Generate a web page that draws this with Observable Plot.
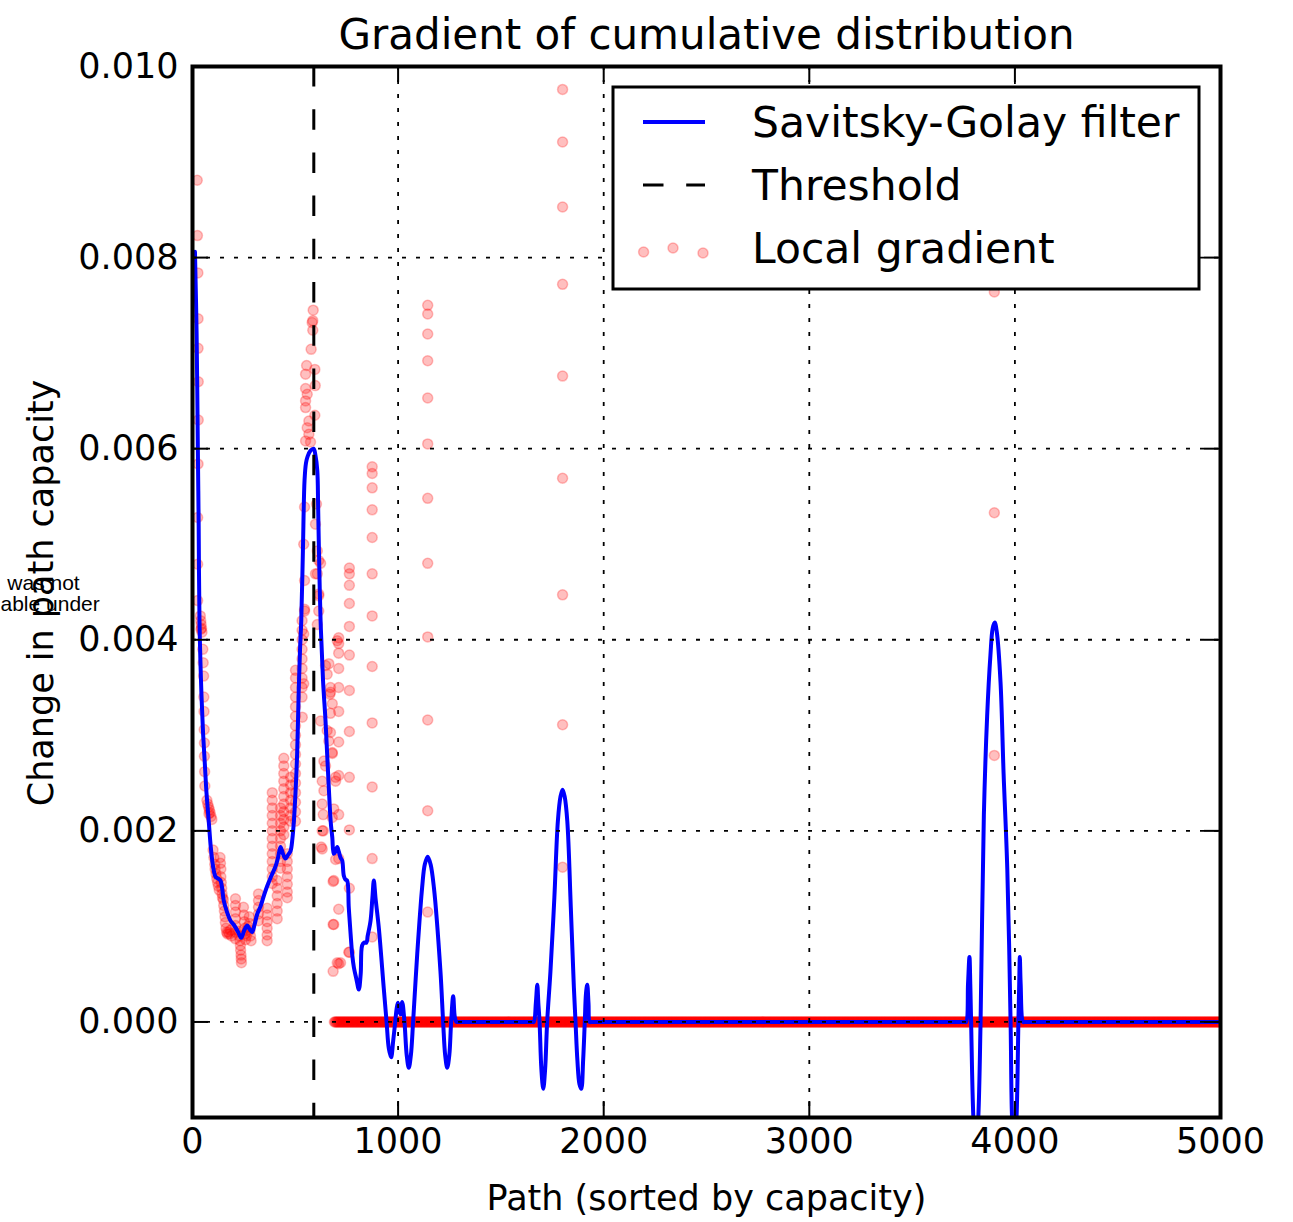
<!DOCTYPE html>
<html><head><meta charset="utf-8">
<script src="https://cdn.jsdelivr.net/npm/d3@7"></script>
<script src="https://cdn.jsdelivr.net/npm/@observablehq/plot@0.6"></script>
<style>
html,body{margin:0;padding:0;background:#fff;}
#chart{position:relative;width:1293px;height:1222px;}
</style></head><body><div id="chart"></div>
<script>
const title = "Gradient of cumulative distribution";
const xLabel = "Path (sorted by capacity)";
const yLabel = "Change in path capacity";
const strayLines = ["was not", "able under"];
const legendLabels = ["Savitsky-Golay filter", "Threshold", "Local gradient"];
const xTicks = [0, 1000, 2000, 3000, 4000, 5000];
const yTicks = [0, 0.002, 0.004, 0.006, 0.008, 0.010];
const threshold = 590;

// Savitsky-Golay filtered curve [path index, value]
const sgCurve = [
[12,0.00806],[20,0.0072],[26,0.0060],[30,0.0052],[34,0.0042],[44,0.0034],[52,0.0030],[60,0.0027],[68,0.0024],[79,0.0021],[88,0.00185],[96,0.00169],[104,0.00158],[112,0.00152],[125,0.0015],[136,0.00148],[144,0.0014],[152,0.00127],[168,0.00115],[185,0.00106],[200,0.00102],[209,0.00099],[222,0.00094],[237,0.00088],[252,0.00096],[266,0.00101],[278,0.00097],[290,0.00094],[302,0.00102],[315,0.00113],[331,0.00121],[347,0.00132],[363,0.00142],[384,0.00153],[404,0.00163],[416,0.00172],[428,0.00183],[440,0.00176],[452,0.00171],[465,0.00175],[477,0.00179],[486,0.00192],[493,0.0021],[501,0.0024],[509,0.00281],[517,0.0035],[523,0.0039],[529,0.0042],[537,0.00493],[545,0.00567],[552,0.00585],[560,0.00592],[574,0.00598],[589,0.0060],[598,0.00593],[607,0.00577],[611,0.0054],[615,0.00493],[623,0.0042],[635,0.00357],[647,0.00315],[655,0.0028],[663,0.00245],[672,0.0021],[680,0.00193],[687,0.00176],[695,0.00178],[704,0.00183],[712,0.00178],[720,0.00172],[728,0.00169],[736,0.00153],[744,0.00149],[752,0.00148],[760,0.0012],[769,0.00092],[777,0.0007],[785,0.00057],[797,0.00045],[809,0.00034],[818,0.0005],[825,0.0008],[835,0.00083],[846,0.00083],[852,0.0009],[866,0.00106],[875,0.0013],[882,0.00148],[890,0.0013],[906,0.00099],[930,0.00036],[944,0],[955,-0.00028],[966,-0.00037],[976,-0.0002],[986,0],[993,0.00014],[999,0.0002],[1006,0.00012],[1012,0.00008],[1020,0.00021],[1031,0],[1042,-0.00035],[1052,-0.00048],[1062,-0.00035],[1073,0],[1093,0.00071],[1117,0.00141],[1130,0.00165],[1144,0.00173],[1158,0.00165],[1174,0.00141],[1206,0.00053],[1219,0],[1229,-0.00035],[1239,-0.00048],[1249,-0.00035],[1258,0],[1268,0.00027],[1276,0.00005],[1284,0],[1292,0],[1652,0],[1660,0],[1670,0.0002],[1677,0.00039],[1682,0.0002],[1688,0],[1697,-0.0005],[1706,-0.0007],[1715,-0.0005],[1725,0],[1741,0.00053],[1760,0.0013],[1777,0.0021],[1790,0.00236],[1800,0.00243],[1810,0.00236],[1823,0.0021],[1840,0.0012],[1855,0.00036],[1863,0],[1872,-0.0004],[1882,-0.00065],[1891,-0.0007],[1900,-0.0004],[1908,0],[1914,0.0003],[1920,0.00039],[1926,0.0002],[1932,0],[1940,0],[3755,0],[3763,0],[3772,0.0004],[3779,0.00068],[3783,0.0004],[3787,0],[3798,-0.001],[3810,-0.0014],[3822,-0.001],[3833,0],[3849,0.00216],[3865,0.0032],[3881,0.00384],[3892,0.00412],[3902,0.00418],[3912,0.00408],[3930,0.00356],[3945,0.0026],[3963,0.0016],[3979,0],[3986,-0.001],[3997,-0.0014],[4008,-0.001],[4017,0],[4021,0.0004],[4024,0.00068],[4028,0.0004],[4040,0],[4048,0],[4990,0],[5000,0]
];

// Local gradient: head of the distribution
const gradHead = [
[23,0.00881],[24,0.00823],[26,0.00784],[27,0.00736],[27,0.00705],[28,0.0067],[28,0.0063],[27,0.00584],[25,0.00528],[25,0.00479],[25,0.00441],
[38,0.00425],[40,0.0042],[42,0.00416],[44,0.00412],[46,0.00408],[41,0.00411],
[50,0.0039],[52,0.00376],[54,0.00362],[55,0.0034],[56,0.00325],[57,0.00306],[58,0.00292],[58,0.00278],[59,0.00262],[60,0.00247],
[70,0.00232],[74,0.00228],[78,0.00225],[82,0.00222],[86,0.00219],[90,0.00215],[94,0.00212],[80,0.00218],
[100,0.0018],[104,0.00172],[108,0.00165],[110,0.0016],[114,0.00155],[118,0.0015],[122,0.00146],[126,0.00142],[130,0.00138],[134,0.00172],[136,0.00166],[138,0.0016],[138,0.00152],[140,0.00146],[142,0.0014],[144,0.00134],[146,0.0013],
[150,0.00128],[152,0.00122],[155,0.00116],[158,0.0011],[160,0.00104],[163,0.00098],[166,0.00094],[170,0.00092],[175,0.00094],[180,0.00092],[185,0.00096],[190,0.0009],
[209,0.00129],[209,0.00122],[209,0.00115],[209,0.00108],[209,0.00101],[209,0.00094],[209,0.00087],
[225,0.00095],[228,0.0009],[231,0.00085],[233,0.0008],[234,0.00075],[236,0.0007],[237,0.00066],[238,0.00062]
];

// Local gradient: rising part up to the threshold
const gradBody = [
[248,0.0012],[250,0.00112],[252,0.00105],[254,0.00098],[256,0.00092],[258,0.00086],[262,0.0009],[266,0.00096],[270,0.001],[276,0.0011],[278,0.00103],[280,0.00096],[282,0.0009],[285,0.00085],
[321,0.00134],[321,0.00127],[321,0.0012],[321,0.00113],[321,0.00106],
[363,0.00119],[363,0.00112],[363,0.00105],[363,0.00098],[363,0.00091],[363,0.00085],
[388,0.0024],[388,0.00232],[388,0.00224],[388,0.00216],[388,0.00208],[388,0.002],[388,0.00192],[388,0.00184],[388,0.00176],[388,0.00168],[388,0.0016],[388,0.00152],[388,0.00145],
[412,0.00148],[412,0.0014],[412,0.00132],[412,0.00124],[412,0.00116],[412,0.00108],
[428,0.00224],[428,0.00216],[428,0.00208],[428,0.002],[428,0.00192],[428,0.00184],[428,0.00176],[428,0.00168],[428,0.00161],
[444,0.00276],[444,0.00268],[444,0.0026],[444,0.00252],[444,0.00244],[444,0.00236],[444,0.00228],[444,0.0022],[444,0.00212],[444,0.00204],[444,0.00196],
[461,0.00176],[461,0.00168],[461,0.0016],[461,0.00152],[461,0.00144],[461,0.00136],[461,0.0013],
[477,0.00256],[477,0.00248],[477,0.0024],[477,0.00232],[477,0.00224],[477,0.00216],[477,0.0021],
[501,0.00368],[501,0.0036],[501,0.0035],[501,0.0034],[501,0.0033],[501,0.0032],[501,0.0031],[501,0.003],[501,0.0029],[501,0.0028],[501,0.0027],[501,0.0026],[501,0.0025],[501,0.0024],[501,0.0023],[501,0.0022],[501,0.0021],
[533,0.0042],[533,0.0041],[533,0.004],[533,0.0039],[533,0.0038],[533,0.0037],[533,0.0036],[533,0.0035],[533,0.0034],
[541,0.00354],[534,0.00319],[541,0.00406],[545,0.0043],[545,0.00432],[545,0.00462],[541,0.005],[545,0.00539],
[550,0.00608],[566,0.00615],[558,0.00622],[566,0.00629],[550,0.00643],[550,0.0065],[558,0.00657],[550,0.00663],[550,0.00678],[555,0.00687],[577,0.00704],[585,0.00724],[582,0.00732],[585,0.00734],[587,0.00745],[574,0.00607]
];

// Local gradient: falling part after the threshold
const gradFall = [
[595,0.00683],[597,0.00666],[595,0.00635],[603,0.00542],[598,0.00521],[607,0.00493],[614,0.00483],[623,0.0048],[607,0.00469],[614,0.00446],[598,0.00469],[614,0.00448],[614,0.0043],[607,0.00416],
[647,0.00373],[655,0.00364],[671,0.0035],[668,0.00343],[680,0.00333],[671,0.00323],[623,0.00315],[671,0.00303],[663,0.00294],[680,0.00282],[639,0.00273],[647,0.00268],[631,0.00252],[639,0.00242],[631,0.00228],[636,0.00217],[631,0.002],[626,0.00183],[687,0.00223],[696,0.00252],[704,0.00399],[663,0.00375],[671,0.00345],[655,0.00305],[680,0.00281],[696,0.00256],[680,0.00214],[631,0.00181],[687,0.00148],[687,0.00102],[760,0.00073],[704,0.00062],[720,0.00062],[636,0.002],[696,0.0017],[684,0.00147],[684,0.00102],[684,0.00053]
];

// Local gradient: isolated columns of points (path index, values)
const colX = [711, 763, 874, 1144, 1800, 3900];
const colValues = [
[0.00402,0.00396,0.00386,0.0037,0.0035,0.00325,0.00293,0.00258,0.00217,0.00171,0.00118,0.00061],
[0.00475,0.00469,0.00457,0.00438,0.00414,0.00384,0.00347,0.00304,0.00256,0.00201,0.0014,0.00073],
[0.00581,0.00574,0.00559,0.00536,0.00507,0.00469,0.00425,0.00372,0.00313,0.00246,0.00171,0.00089],
[0.0075,0.00741,0.0072,0.00692,0.00653,0.00605,0.00548,0.0048,0.00403,0.00316,0.00221,0.00115],
[0.00976,0.00921,0.00853,0.00772,0.00676,0.00569,0.00447,0.00311,0.00162],
[0.00764,0.00533,0.00279]
];
// Range of path indices where the local gradient is zero
const zeroStart = 690, zeroEnd = 5000, zeroStep = 4;

// ---- build tables ----
const sg = sgCurve.map(([x, y]) => ({x, y}));
const grad = [
  ...gradHead, ...gradBody, ...gradFall,
  ...colX.flatMap((x, i) => colValues[i].map(y => [x, y])),
  ...d3.range(zeroStart, zeroEnd + 1, zeroStep).map(x => [x, 0])
].map(([x, y]) => ({x, y}));

const W = 1293, H = 1222, mL = 192, mR = 73, mT = 66, mB = 105;
const fW = W - mL - mR, fH = H - mT - mB;
const tickLen = 16;
const dotStyle = {r: 5, fill: "red", fillOpacity: 0.25, stroke: "red", strokeOpacity: 0.25, strokeWidth: 1.5};
const gridStyle = {stroke: "black", strokeOpacity: 1, strokeWidth: 1.8, strokeDasharray: "4,10"};
const dash = "20.5,22.7";
const labelText = {lineAnchor: "middle", textAnchor: "middle"};

const plot = Plot.plot({
  width: W, height: H,
  marginLeft: mL, marginRight: mR, marginTop: mT, marginBottom: mB,
  x: {domain: [0, 5000]},
  y: {domain: [-0.001, 0.010]},
  style: {fontFamily: "'DejaVu Sans', sans-serif", fontSize: "35px", background: "white", color: "black"},
  marks: [
    Plot.dot(grad, {x: "x", y: "y", ...dotStyle, clip: true}),
    Plot.line(sg, {x: "x", y: "y", stroke: "#0000ff", strokeWidth: 4, curve: "catmull-rom", clip: true}),
    Plot.ruleX([threshold], {stroke: "black", strokeWidth: 3, strokeDasharray: dash}),
    Plot.ruleX(xTicks, gridStyle),
    Plot.ruleY(yTicks, gridStyle),
    Plot.tickX(xTicks, {x: d => d, insetBottom: fH - tickLen, stroke: "black", strokeWidth: 2}),
    Plot.tickX(xTicks, {x: d => d, insetTop: fH - tickLen, stroke: "black", strokeWidth: 2}),
    Plot.tickY(yTicks, {y: d => d, insetRight: fW - tickLen, stroke: "black", strokeWidth: 2}),
    Plot.tickY(yTicks, {y: d => d, insetLeft: fW - tickLen, stroke: "black", strokeWidth: 2}),
    Plot.frame({stroke: "black", strokeWidth: 4}),
    Plot.axisX({ticks: xTicks, tickSize: 0, tickPadding: 11, fontSize: 35, label: null, tickFormat: d => String(d)}),
    Plot.axisY({ticks: yTicks, tickSize: 0, tickPadding: 14, fontSize: 35, label: null, tickFormat: d3.format(".3f")}),
    Plot.text([title], {frameAnchor: "top", dy: -31, fontSize: 42, ...labelText}),
    Plot.text([xLabel], {frameAnchor: "bottom", dy: 81, fontSize: 35, ...labelText}),
    Plot.text([yLabel], {frameAnchor: "left", dx: -151, dy: 1, rotate: -90, fontSize: 35, ...labelText}),
    Plot.text([strayLines[0]], {frameAnchor: "left", dx: 43 - mL, dy: -8.5, fontSize: 21, fontFamily: "'Liberation Sans', Arial, sans-serif", ...labelText}),
    Plot.text([strayLines[1]], {frameAnchor: "left", dx: -mL, dy: 12.5, lineAnchor: "middle", textAnchor: "start", fontSize: 21, fontFamily: "'Liberation Sans', Arial, sans-serif"})
  ]
});

// ---- legend (inside the frame, upper right) ----
const svg = d3.select(plot);
const lg = svg.append("g").attr("text-anchor", "start");
const box = {x: 613, y: 87, w: 586, h: 202};
lg.append("rect").attr("x", box.x).attr("y", box.y).attr("width", box.w).attr("height", box.h)
  .attr("fill", "white").attr("stroke", "black").attr("stroke-width", 3);
const rowY = [122, 185, 248];
const sx0 = 643, sx1 = 705, tx = 752;
lg.append("line").attr("x1", sx0).attr("x2", sx1).attr("y1", rowY[0]).attr("y2", rowY[0])
  .attr("stroke", "#0000ff").attr("stroke-width", 4);
lg.append("line").attr("x1", sx0).attr("x2", sx1).attr("y1", rowY[1]).attr("y2", rowY[1])
  .attr("stroke", "black").attr("stroke-width", 3).attr("stroke-dasharray", dash);
[[643.6, 4], [673, 0], [703, 5]].forEach(([cx, dy]) => {
  lg.append("circle").attr("cx", cx).attr("cy", rowY[2] + dy).attr("r", dotStyle.r)
    .attr("fill", "red").attr("fill-opacity", dotStyle.fillOpacity)
    .attr("stroke", "red").attr("stroke-opacity", dotStyle.strokeOpacity).attr("stroke-width", dotStyle.strokeWidth);
});
legendLabels.forEach((t, i) => {
  lg.append("text").attr("x", tx).attr("y", rowY[i]).attr("dy", "0.36em")
    .attr("text-anchor", "start").attr("font-size", 42.5).attr("fill", "black").text(t);
});

document.getElementById("chart").appendChild(plot);
</script></body></html>
